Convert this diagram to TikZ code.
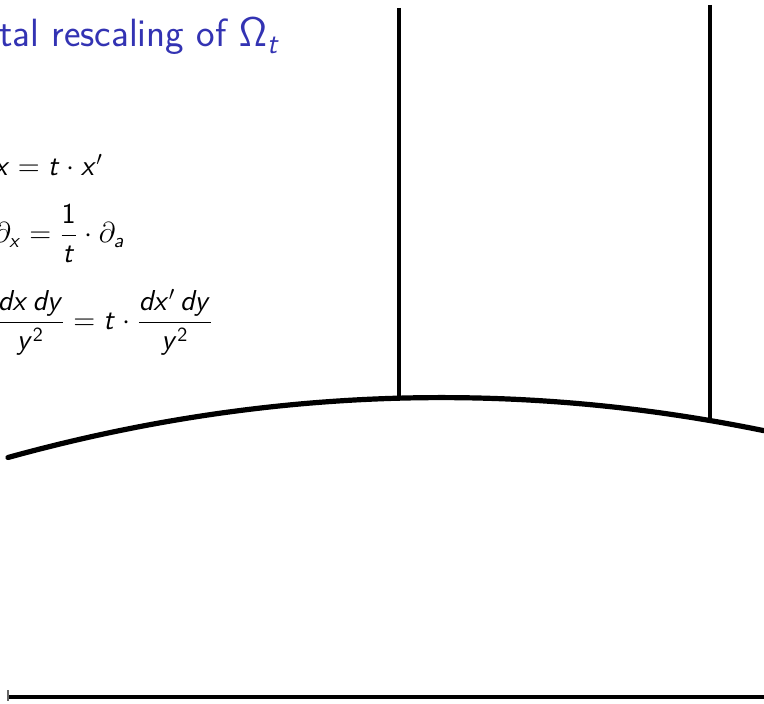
\documentclass[tikz,border=0pt]{standalone}
\usepackage{amsmath}
\SetSymbolFont{operators}{normal}{OT1}{cmss}{m}{n}
\DeclareMathAlphabet{\mathsfit}{OT1}{cmss}{m}{sl}
\newcommand{\sx}{\mathsfit{x}}
\newcommand{\st}{\mathsfit{t}}
\newcommand{\sa}{\mathsfit{a}}
\newcommand{\sd}{\mathsfit{d}}
\newcommand{\sy}{\mathsfit{y}}
\definecolor{beamerblue}{RGB}{51,51,179}
\tikzset{
  titletext/.style={inner sep=0pt, anchor=base west, text=beamerblue, font=\sffamily\fontsize{19.7}{23}\selectfont},
  mathtext/.style={inner sep=0pt, anchor=base west, font=\fontsize{14.9}{18}\selectfont},
  boundary/.style={line width=2.6pt, line cap=round},
  wall/.style={line width=1.8pt},
  axisline/.style={line width=2pt},
}
\begin{document}
\begin{tikzpicture}[x=0.5pt,y=-0.5pt]
\clip (0,0) rectangle (764,704);
\fill[white] (0,0) rectangle (764,704);
% texts
\node[titletext] (title) at (-1,47) {tal rescaling of $\Omega_{\st}$};
\node[mathtext] (eq1) at (-6,176) {$\sx = \st\cdot \sx'$};
\node[mathtext] (eq2) at (-6,243) {$\displaystyle \partial_{\sx} = \frac{1}{\st}\cdot \partial_{\sa}$};
\node[mathtext] (eq3) at (-5,330) {$\displaystyle \frac{\sd\sx\,\sd\sy}{\sy^2} = \st\cdot \frac{\sd\sx'\,\sd\sy}{\sy^2}$};
% geometry
\coordinate (arcL) at (8,457.5);
\coordinate (arcR) at (764,430.7);
\coordinate (wallAtop) at (399,8);
\coordinate (wallAbot) at (399,399);
\coordinate (wallBtop) at (710,5);
\coordinate (wallBbot) at (710,418);
\coordinate (baseL) at (8,697);
\coordinate (baseR) at (770,697);
\coordinate (tickT) at (8,690);
\coordinate (tickB) at (8,701);
\draw[wall] (wallAtop) -- (wallAbot);
\draw[wall] (wallBtop) -- (wallBbot);
\draw[boundary] (arcL) .. controls (260,387.8) and (512,379.0) .. (arcR);
\draw[axisline] (baseL) -- (baseR);
\draw[line width=0.6pt, black!60] (tickT) -- (tickB);
\end{tikzpicture}
\end{document}
